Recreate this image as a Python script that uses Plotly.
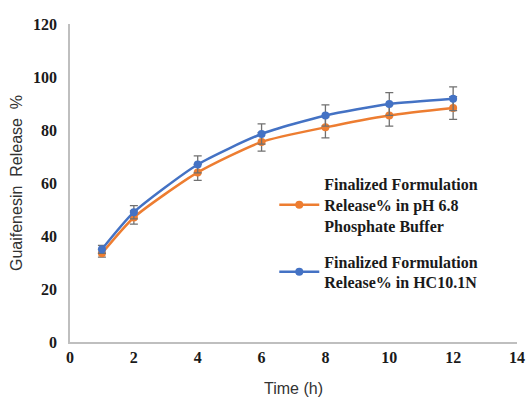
import plotly.graph_objects as go

time_h = [1, 2, 4, 6, 8, 10, 12]
ph68_release = [33.5, 47, 64, 75.5, 81, 85.5, 88.3]
ph68_err = [1.5, 2.5, 3, 3.5, 4, 4, 4.3]
hcl_release = [35, 49, 67, 78.5, 85.5, 89.8, 91.8]
hcl_err = [1.5, 2.5, 3.2, 3.8, 4, 4.3, 4.5]

name_ph68 = "Finalized Formulation<br>Release% in pH 6.8<br>Phosphate Buffer"
name_hcl = "Finalized Formulation<br>Release% in HC10.1N"

fig = go.Figure()
fig.add_trace(go.Scatter(
    x=time_h, y=ph68_release, mode="lines+markers", name=name_ph68,
    legendgroup="a",
    line=dict(color="#ED7D31", width=2.5, shape="spline", smoothing=0.6),
    marker=dict(color="#ED7D31", size=8),
    error_y=dict(type="data", array=ph68_err, color="#707070", thickness=1.3, width=4),
))
fig.add_trace(go.Scatter(
    x=time_h, y=hcl_release, mode="lines+markers", name=name_hcl,
    legendgroup="b",
    line=dict(color="#4472C4", width=2.5, shape="spline", smoothing=0.6),
    marker=dict(color="#4472C4", size=8),
    error_y=dict(type="data", array=hcl_err, color="#707070", thickness=1.3, width=4),
))

tick_font = dict(family="Liberation Serif", size=16, color="#1a1a1a", weight="bold")
fig.update_layout(
    width=532, height=397,
    margin=dict(l=70, r=15, t=24, b=55),
    paper_bgcolor="white", plot_bgcolor="white",
    font=dict(family="Liberation Serif"),
    showlegend=True,
    legend=dict(
        x=0.457, y=0.55, xanchor="left", yanchor="top",
        font=dict(family="Liberation Serif", size=16, color="#1a1a1a", weight="bold"),
        bgcolor="rgba(0,0,0,0)", tracegroupgap=12, traceorder="grouped",
        itemwidth=40,
    ),
    xaxis=dict(
        range=[0, 14], tickvals=[0, 2, 4, 6, 8, 10, 12, 14],
        showgrid=False, zeroline=False, showline=True, linecolor="#bfbfbf", linewidth=1.5,
        ticks="", tickfont=tick_font, automargin=False,
        title=dict(text="Time (h)", font=dict(family="Liberation Sans", size=16, color="#333"), standoff=20),
    ),
    yaxis=dict(
        range=[0, 120], tickvals=[0, 20, 40, 60, 80, 100, 120],
        showgrid=False, zeroline=False, showline=True, linecolor="#bfbfbf", linewidth=1.5,
        ticks="", tickfont=tick_font, ticklabelstandoff=8, automargin=False,
        title=dict(text="Guaifenesin  Release  %", font=dict(family="Liberation Sans", size=16, color="#333"), standoff=6),
    ),
)

fig.write_html("out.html")
